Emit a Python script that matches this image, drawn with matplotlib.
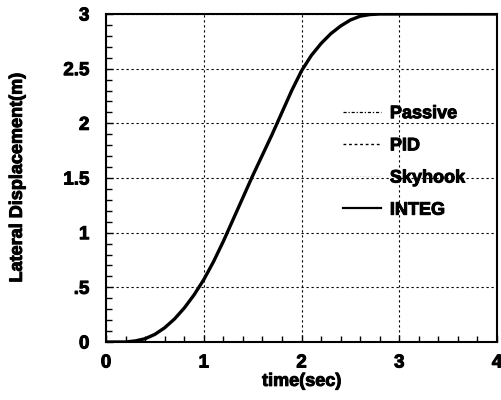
import matplotlib
matplotlib.use("Agg")
import matplotlib.pyplot as plt
import matplotlib.patheffects as pe
from matplotlib.ticker import MultipleLocator, FixedLocator

plt.rcParams['font.family'] = ['Liberation Sans', 'DejaVu Sans']
plt.rcParams['font.weight'] = 'bold'

# data (all four controllers overlap)
time_sec = [0.0, 0.2, 0.3, 0.4, 0.5, 0.6, 0.7, 0.8, 0.9, 0.95, 1.0, 1.1, 1.2, 1.3,
            1.4, 1.5, 1.6, 1.7, 1.8, 1.9, 2.0, 2.1, 2.2, 2.3, 2.4, 2.5, 2.6, 2.7,
            2.8, 3.0, 4.0]
disp_integ = [0.0, 0.0, 0.01, 0.03, 0.07, 0.13, 0.21, 0.31, 0.43, 0.5, 0.57, 0.735,
              0.92, 1.12, 1.32, 1.52, 1.71, 1.9, 2.1, 2.3, 2.48, 2.62, 2.73, 2.82,
              2.89, 2.945, 2.98, 2.995, 3.0, 3.0, 3.0]
disp_passive = disp_integ
disp_pid = disp_integ
disp_skyhook = disp_integ

series_names = ["Passive", "PID", "Skyhook", "INTEG"]
y_ticks = [0, 0.5, 1, 1.5, 2, 2.5, 3]
y_tick_labels = ["0", ".5", "1", "1.5", "2", "2.5", "3"]
x_ticks = [0, 1, 2, 3, 4]
x_tick_labels = ["0", "1", "2", "3", "4"]

heavy = [pe.withStroke(linewidth=0.7, foreground='black')]

fig = plt.figure(figsize=(5.01, 4.0), dpi=100)
ax = fig.add_axes([0.2116, 0.145, 0.992 - 0.2116, 0.965 - 0.145])

ax.plot(time_sec, disp_passive, color='black', lw=0.9, ls=(0, (2.5, 1.5, 1, 1.5)), label=series_names[0])
ax.plot(time_sec, disp_pid, color='black', lw=1.0, ls=(0, (2, 2)), label=series_names[1])
ax.plot(time_sec, disp_skyhook, color='#bbbbbb', lw=0.5, ls=(0, (1, 3)), label=series_names[2])
ax.plot(time_sec, disp_integ, color='black', lw=2.4, ls='-', label=series_names[3])

ax.set_xlim(0, 4)
ax.set_ylim(0, 3)
ax.xaxis.set_major_locator(FixedLocator(x_ticks))
ax.yaxis.set_major_locator(FixedLocator(y_ticks))
ax.set_xticklabels(x_tick_labels)
ax.set_yticklabels(y_tick_labels)
ax.xaxis.set_minor_locator(MultipleLocator(0.2))
ax.yaxis.set_minor_locator(MultipleLocator(0.1))
ax.tick_params(which='both', direction='in', top=False, right=False, colors='black')
ax.tick_params(axis='y', which='major', length=5, width=1, labelsize=13.5, pad=12)
ax.tick_params(axis='x', which='major', length=5, width=1, labelsize=13.5, pad=9)
ax.tick_params(which='minor', length=4, width=1)
for lab in ax.get_xticklabels() + ax.get_yticklabels():
    lab.set_fontweight('bold')
    lab.set_path_effects(heavy)

ax.grid(True, which='major', color='black', lw=0.8, ls=(0, (2, 2.5)))
for s in ax.spines.values():
    s.set_linewidth(1.5)

ax.set_xlabel("time(sec)", fontsize=13, fontweight='bold', labelpad=1,
              path_effects=heavy)
ax.set_ylabel("Lateral Displacement(m)", fontsize=13, fontweight='bold', labelpad=27,
              path_effects=heavy)

leg = ax.legend(loc='upper left', bbox_to_anchor=(0.606, 0.722), frameon=False,
                handlelength=2.1, handletextpad=0.5, labelspacing=0.84,
                borderpad=0, borderaxespad=0,
                prop={'weight': 'bold', 'size': 13})
for t in leg.get_texts():
    t.set_path_effects(heavy)
leg.get_lines()[3].set_linewidth(1.6)

fig.savefig("out.png", dpi=100)
